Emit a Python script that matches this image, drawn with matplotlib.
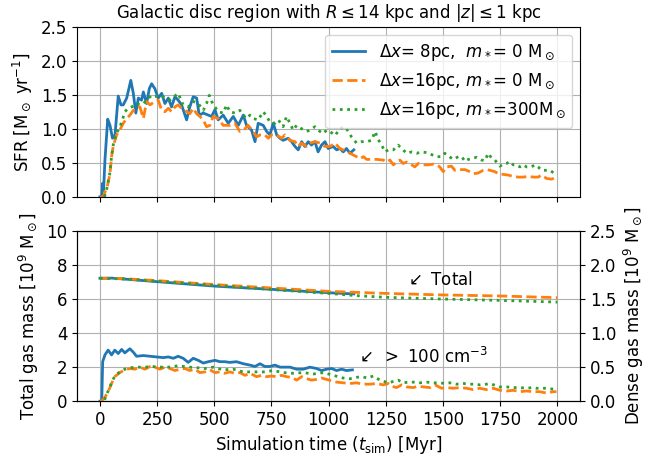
import matplotlib
matplotlib.use("Agg")
import matplotlib.pyplot as plt

plt.rcParams["font.family"] = ["DejaVu Sans"]
plt.rcParams["mathtext.fontset"] = "dejavusans"

BLUE   = "#1f77b4"
ORANGE = "#ff7f0e"
GREEN  = "#2ca02c"

# --- SFR [Msun/yr] ---
t_sfr_8 = [0, 8, 12, 16, 22, 34, 44, 55, 66, 80, 92, 102, 117, 135, 146, 157, 168, 182, 190, 204,
           216, 226, 240, 255, 270, 284, 299, 313, 328, 342, 357, 379, 393, 408, 423, 434, 452, 474,
           488, 503, 517, 539, 561, 583, 605, 627, 641, 663, 678, 692, 714, 729, 743, 758, 773, 787,
           801, 823, 838, 853, 867, 882, 896, 911, 925, 940, 954, 969, 984, 998, 1020, 1035, 1049,
           1064, 1078, 1093, 1110]
sfr_8 = [0, 0.0, 0.2, 0.1, 0.54, 1.14, 1.05, 0.86, 0.91, 1.48, 1.35, 1.35, 1.45, 1.71, 1.52, 1.23,
         1.45, 1.42, 1.54, 1.37, 1.59, 1.66, 1.59, 1.45, 1.52, 1.37, 1.45, 1.32, 1.47, 1.42, 1.35,
         1.13, 1.32, 1.47, 1.45, 1.2, 1.23, 1.2, 1.18, 1.28, 1.13, 1.2, 1.08, 1.18, 1.05, 1.2, 1.05,
         0.98, 0.81, 1.08, 1.05, 0.96, 0.91, 1.08, 0.91, 0.86, 0.83, 0.86, 0.81, 0.74, 0.69, 0.81,
         0.74, 0.81, 0.76, 0.81, 0.66, 0.76, 0.81, 0.71, 0.74, 0.69, 0.71, 0.66, 0.71, 0.64, 0.69]

t_sfr_16 = [0, 15, 22, 32, 44, 51, 58, 73, 87, 102, 117, 131, 146, 160, 175, 190, 204, 219, 240, 255,
            270, 284, 299, 313, 328, 342, 357, 372, 393, 408, 423, 437, 452, 466, 481, 495, 517, 539,
            568, 590, 612, 634, 648, 670, 685, 700, 721, 736, 750, 773, 794, 809, 831, 853, 867, 882,
            904, 918, 940, 962, 984, 1006, 1028, 1049, 1064, 1093, 1122, 1137, 1152, 1166, 1188, 1210,
            1239, 1254, 1268, 1283, 1297, 1312, 1326, 1341, 1363, 1377, 1392, 1414, 1436, 1457, 1472,
            1486, 1501, 1515, 1537, 1552, 1574, 1596, 1617, 1632, 1654, 1676, 1690, 1705, 1727, 1741,
            1763, 1785, 1807, 1829, 1851, 1873, 1895, 1916, 1931, 1953, 1975, 1995]
sfr_16 = [0, 0.0, 0.07, 0.15, 0.34, 0.59, 0.74, 0.91, 0.98, 1.08, 1.15, 1.2, 1.27, 1.27, 1.32, 1.15,
          1.4, 1.35, 1.4, 1.42, 1.27, 1.25, 1.3, 1.25, 1.32, 1.35, 1.3, 1.27, 1.22, 1.3, 1.22, 1.18,
          1.13, 1.03, 1.05, 1.18, 1.15, 1.05, 1.05, 1.08, 0.96, 1.0, 1.05, 0.96, 0.88, 0.91, 0.91,
          0.86, 0.91, 0.91, 0.86, 0.91, 0.83, 0.81, 0.74, 0.79, 0.74, 0.79, 0.81, 0.79, 0.74, 0.74,
          0.79, 0.71, 0.69, 0.64, 0.59, 0.56, 0.59, 0.55, 0.55, 0.55, 0.54, 0.51, 0.54, 0.47, 0.51,
          0.54, 0.49, 0.51, 0.47, 0.44, 0.49, 0.47, 0.47, 0.48, 0.47, 0.44, 0.37, 0.44, 0.45, 0.39,
          0.4, 0.4, 0.37, 0.34, 0.35, 0.39, 0.4, 0.39, 0.37, 0.34, 0.33, 0.32, 0.3, 0.29, 0.29, 0.3,
          0.29, 0.29, 0.32, 0.27, 0.26, 0.29]

t_sfr_300 = [20, 30, 44, 51, 58, 73, 87, 100, 109, 124, 139, 160, 175, 190, 204, 226, 240, 262, 277,
             306, 342, 364, 386, 408, 430, 452, 466, 478, 495, 503, 517, 539, 554, 568, 590, 612, 627,
             641, 656, 670, 692, 714, 729, 743, 765, 780, 801, 816, 831, 845, 860, 882, 904, 918, 940,
             962, 977, 991, 1006, 1028, 1049, 1071, 1086, 1100, 1122, 1144, 1166, 1188, 1203, 1217,
             1232, 1246, 1261, 1283, 1304, 1319, 1341, 1363, 1385, 1406, 1428, 1450, 1472, 1494, 1508,
             1523, 1545, 1567, 1582, 1596, 1611, 1632, 1647, 1669, 1683, 1698, 1712, 1727, 1749, 1763,
             1778, 1792, 1807, 1822, 1836, 1851, 1865, 1887, 1902, 1916, 1931, 1953, 1967, 1989, 1996]
sfr_300 = [0.0, 0.12, 0.36, 0.6, 0.76, 0.94, 1.02, 1.15, 1.25, 1.3, 1.32, 1.37, 1.35, 1.37, 1.42,
           1.49, 1.47, 1.49, 1.47, 1.42, 1.52, 1.35, 1.32, 1.4, 1.37, 1.27, 1.37, 1.49, 1.35, 1.32,
           1.25, 1.23, 1.35, 1.25, 1.23, 1.27, 1.2, 1.15, 1.2, 1.15, 1.13, 1.25, 1.18, 1.1, 1.08, 1.13,
           1.03, 1.18, 1.08, 0.98, 1.05, 1.0, 0.96, 0.98, 1.03, 0.96, 0.93, 0.98, 0.96, 0.9, 1.0, 1.03,
           0.96, 0.88, 0.79, 0.81, 0.81, 0.83, 0.96, 0.84, 0.76, 0.66, 0.69, 0.69, 0.76, 0.71, 0.64,
           0.66, 0.64, 0.66, 0.65, 0.62, 0.59, 0.59, 0.64, 0.6, 0.55, 0.59, 0.59, 0.52, 0.55, 0.57,
           0.58, 0.54, 0.53, 0.64, 0.57, 0.54, 0.45, 0.48, 0.49, 0.52, 0.47, 0.47, 0.44, 0.47, 0.44,
           0.44, 0.47, 0.44, 0.39, 0.39, 0.39, 0.34, 0.32]

# --- total gas mass [1e9 Msun] ---
t_tot_8 = [0, 50, 100, 250, 500, 750, 1000, 1110]
tot_8 = [7.22, 7.23, 7.18, 7.02, 6.76, 6.57, 6.37, 6.3]
t_tot_16 = [0, 100, 250, 500, 750, 1000, 1250, 1500, 1750, 2000]
tot_16 = [7.22, 7.2, 7.08, 6.85, 6.65, 6.45, 6.33, 6.24, 6.18, 6.08]
t_tot_300 = [0, 100, 250, 500, 750, 1000, 1120, 1250, 1500, 1750, 2000]
tot_300 = [7.22, 7.18, 7.04, 6.8, 6.56, 6.33, 6.2, 6.1, 6.0, 5.92, 5.82]

# --- dense gas mass (> 100 cm^-3) [1e9 Msun] ---
t_den_8 = [0, 8, 12, 22, 36, 51, 65, 80, 95, 109, 131, 146, 160, 190, 219, 248, 277, 299, 321, 342,
           364, 386, 408, 430, 452, 474, 503, 525, 546, 568, 597, 627, 656, 678, 700, 721, 743, 765,
           787, 809, 831, 860, 889, 918, 947, 969, 991, 1013, 1035, 1057, 1078, 1104]
den_8 = [0, 0, 0.58, 0.68, 0.75, 0.68, 0.75, 0.7, 0.76, 0.71, 0.77, 0.72, 0.66, 0.67, 0.66, 0.65,
         0.64, 0.65, 0.63, 0.66, 0.63, 0.57, 0.63, 0.6, 0.56, 0.58, 0.6, 0.58, 0.58, 0.57, 0.58, 0.55,
         0.53, 0.51, 0.55, 0.51, 0.51, 0.53, 0.5, 0.5, 0.5, 0.47, 0.47, 0.5, 0.48, 0.45, 0.47, 0.48,
         0.45, 0.47, 0.45, 0.46]

t_den_16 = [0, 7, 22, 36, 51, 65, 87, 109, 131, 153, 175, 197, 219, 240, 262, 284, 306, 328, 350, 372,
            393, 415, 437, 459, 481, 503, 525, 546, 568, 590, 612, 634, 656, 685, 707, 729, 750, 772,
            794, 816, 838, 860, 882, 904, 926, 947, 969, 991, 1013, 1035, 1064, 1093, 1122, 1152, 1181,
            1210, 1239, 1261, 1276, 1297, 1319, 1341, 1370, 1392, 1414, 1443, 1465, 1494, 1515, 1545,
            1574, 1603, 1632, 1661, 1690, 1720, 1749, 1778, 1807, 1836, 1865, 1894, 1923, 1952, 1981,
            1996]
den_16 = [0, 0, 0.06, 0.14, 0.26, 0.36, 0.42, 0.46, 0.48, 0.47, 0.5, 0.47, 0.51, 0.5, 0.47, 0.5,
          0.48, 0.45, 0.47, 0.48, 0.45, 0.47, 0.42, 0.43, 0.46, 0.42, 0.43, 0.41, 0.43, 0.41, 0.42,
          0.38, 0.41, 0.36, 0.38, 0.36, 0.37, 0.36, 0.38, 0.36, 0.35, 0.31, 0.36, 0.33, 0.31, 0.32,
          0.34, 0.32, 0.3, 0.28, 0.27, 0.26, 0.27, 0.25, 0.25, 0.26, 0.24, 0.26, 0.22, 0.2, 0.24, 0.21,
          0.2, 0.22, 0.21, 0.2, 0.24, 0.19, 0.2, 0.19, 0.2, 0.19, 0.17, 0.19, 0.17, 0.19, 0.16, 0.15,
          0.16, 0.14, 0.15, 0.14, 0.14, 0.12, 0.14, 0.14]

t_den_300 = [20, 36, 51, 65, 87, 109, 131, 160, 200, 230, 255, 300, 342, 393, 430, 459, 495, 539, 583,
             627, 670, 714, 758, 802, 845, 889, 933, 977, 1020, 1042, 1064, 1093, 1120, 1144, 1170,
             1195, 1224, 1261, 1283, 1304, 1326, 1350, 1370, 1400, 1428, 1460, 1486, 1508, 1530, 1559,
             1590, 1617, 1640, 1661, 1690, 1705, 1730, 1749, 1778, 1807, 1836, 1865, 1890, 1909, 1930,
             1952, 1975, 1996]
den_300 = [0.02, 0.15, 0.27, 0.37, 0.43, 0.47, 0.49, 0.5, 0.5, 0.51, 0.5, 0.5, 0.52, 0.5, 0.49, 0.48,
           0.5, 0.46, 0.47, 0.43, 0.43, 0.43, 0.45, 0.42, 0.41, 0.42, 0.4, 0.42, 0.38, 0.36, 0.34,
           0.33, 0.35, 0.36, 0.34, 0.37, 0.31, 0.27, 0.29, 0.31, 0.27, 0.28, 0.28, 0.27, 0.28, 0.27,
           0.27, 0.26, 0.27, 0.25, 0.26, 0.25, 0.25, 0.24, 0.25, 0.26, 0.23, 0.21, 0.21, 0.2, 0.2,
           0.19, 0.2, 0.19, 0.19, 0.19, 0.18, 0.17]

LABELS = [r"$\Delta x$= 8pc,  $m_*$= 0 M$_\odot$",
          r"$\Delta x$=16pc, $m_*$= 0 M$_\odot$",
          r"$\Delta x$=16pc, $m_*$=300M$_\odot$"]
STYLES = [dict(color=BLUE, ls="-", lw=2),
          dict(color=ORANGE, ls="--", lw=2),
          dict(color=GREEN, ls=":", lw=2)]

fig, (ax1, ax2) = plt.subplots(2, 1, figsize=(6.7, 4.58), dpi=100)
fig.subplots_adjust(left=0.115, right=0.866, top=0.942, bottom=0.124, hspace=0.2)

# top: SFR
for (t, v), lab, st in zip([(t_sfr_8, sfr_8), (t_sfr_16, sfr_16), (t_sfr_300, sfr_300)], LABELS, STYLES):
    ax1.plot(t, v, label=lab, **st)
ax1.set_xlim(-100, 2100)
ax1.set_ylim(0, 2.5)
ax1.set_xticks(range(0, 2001, 250))
ax1.set_yticks([0, 0.5, 1.0, 1.5, 2.0, 2.5])
ax1.tick_params(labelbottom=False, labelsize=12)
ax1.grid(True)
ax1.set_ylabel(r"SFR [M$_\odot$ yr$^{-1}$]", fontsize=12)
ax1.set_title(r"Galactic disc region with $R \leq 14$ kpc and $|z| \leq 1$ kpc", fontsize=12)
ax1.legend(loc="upper right", fontsize=12)

# bottom: total gas (left) + dense gas (right)
for (t, v), st in zip([(t_tot_8, tot_8), (t_tot_16, tot_16), (t_tot_300, tot_300)], STYLES):
    ax2.plot(t, v, **st)
ax2.set_xlim(-100, 2100)
ax2.set_ylim(0, 10)
ax2.set_xticks(range(0, 2001, 250))
ax2.set_yticks(range(0, 11, 2))
ax2.tick_params(labelsize=12)
ax2.grid(True)
ax2.set_ylabel(r"Total gas mass [10$^9$ M$_\odot$]", fontsize=12)
ax2.set_xlabel(r"Simulation time ($t_{\rm sim}$) [Myr]", fontsize=12)
ax2.text(1335, 7.1, r"$\swarrow$ Total", fontsize=12, va="center")
ax2.text(1120, 2.6, r"$\swarrow$ $>$ 100 cm$^{-3}$", fontsize=12, va="center")

ax3 = ax2.twinx()
for (t, v), st in zip([(t_den_8, den_8), (t_den_16, den_16), (t_den_300, den_300)], STYLES):
    ax3.plot(t, v, **st)
ax3.set_ylim(0, 2.5)
ax3.set_yticks([0, 0.5, 1.0, 1.5, 2.0, 2.5])
ax3.tick_params(labelsize=12)
ax3.set_ylabel(r"Dense gas mass [10$^9$ M$_\odot$]", fontsize=12)

fig.savefig("out.png", dpi=100)
